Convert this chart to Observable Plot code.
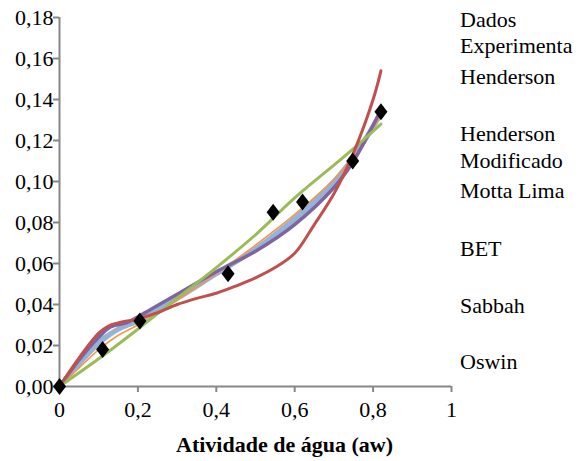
<!DOCTYPE html>
<html>
<head>
<meta charset="utf-8">
<script src="https://cdn.jsdelivr.net/npm/d3@7"></script>
<script src="https://cdn.jsdelivr.net/npm/@observablehq/plot@0.6"></script>
<style>
  html, body { margin: 0; padding: 0; background: #fff; }
  #wrap { position: relative; width: 587px; height: 461px; }
  #legend { position: absolute; left: 460px; top: 0; font-family: "Liberation Serif", Tinos, "Times New Roman", Times, "DejaVu Serif", serif; font-size: 22px; color: #000; white-space: nowrap; }
  #legend div { position: absolute; left: 0; line-height: 22px; }
  svg text { font-family: "Liberation Serif", Tinos, "Times New Roman", Times, "DejaVu Serif", serif !important; }
</style>
</head>
<body>
<div id="wrap"><div id="legend"></div></div>
<script>
// Experimental data
const expX = [0, 0.11, 0.205, 0.43, 0.545, 0.62, 0.748, 0.82];
const expY = [0, 0.018, 0.032, 0.055, 0.085, 0.09, 0.11, 0.134];

// Model curves
const hendX = [0, 0.05, 0.1, 0.125, 0.15, 0.2, 0.25, 0.3, 0.35, 0.4, 0.45, 0.5, 0.55, 0.6, 0.65, 0.7, 0.75, 0.8, 0.82];
const hendY = [0, 0.014, 0.026, 0.0295, 0.031, 0.033, 0.036, 0.04, 0.043, 0.0455, 0.049, 0.053, 0.058, 0.065, 0.079, 0.094, 0.114, 0.14, 0.154];
const hmodX = [0, 0.1, 0.2, 0.3, 0.4, 0.5, 0.6, 0.7, 0.75, 0.82];
const hmodY = [0, 0.0135, 0.028, 0.043, 0.058, 0.074, 0.092, 0.108, 0.116, 0.128];
const mottaX = [0, 0.05, 0.1, 0.13, 0.17, 0.2, 0.3, 0.4, 0.5, 0.6, 0.7, 0.75, 0.82];
const mottaY = [0, 0.013, 0.024, 0.029, 0.031, 0.034, 0.045, 0.056, 0.066, 0.079, 0.097, 0.11, 0.135];
const betX = [0, 0.05, 0.1, 0.15, 0.2, 0.3, 0.4, 0.5, 0.6, 0.7, 0.75, 0.82];
const betY = [0, 0.011, 0.021, 0.028, 0.032, 0.043, 0.055, 0.067, 0.082, 0.1, 0.112, 0.133];
const sabbahX = [0, 0.05, 0.1, 0.15, 0.2, 0.3, 0.4, 0.5, 0.6, 0.7, 0.75, 0.82];
const sabbahY = [0, 0.009, 0.018, 0.025, 0.03, 0.042, 0.055, 0.069, 0.084, 0.101, 0.112, 0.132];
const oswinX = [0, 0.05, 0.1, 0.15, 0.2, 0.3, 0.4, 0.5, 0.6, 0.7, 0.75, 0.82];
const oswinY = [0, 0.012, 0.022, 0.028, 0.032, 0.043, 0.055, 0.067, 0.081, 0.099, 0.111, 0.134];

const legendLabels = ["Dados", "Experimenta", "Henderson", "Henderson", "Modificado", "Motta Lima", "BET", "Sabbah", "Oswin"];
const legendBaselines = [26, 52, 83, 140, 167, 197, 255, 312, 368];

const xTicks = [0, 0.2, 0.4, 0.6, 0.8, 1];
const yTicks = [0, 0.02, 0.04, 0.06, 0.08, 0.10, 0.12, 0.14, 0.16, 0.18];

const toPts = (xs, ys) => xs.map((x, i) => ({x, y: ys[i]}));

const tallDiamond = {
  draw(ctx) {
    ctx.moveTo(0, -8.5);
    ctx.lineTo(6.5, 0);
    ctx.lineTo(0, 8.5);
    ctx.lineTo(-6.5, 0);
    ctx.closePath();
  }
};

const axisColor = "#878787";
const curve = "catmull-rom";

const chart = Plot.plot({
  width: 587,
  height: 461,
  marginLeft: 59,
  marginRight: 136,
  marginTop: 17,
  marginBottom: 75,
  style: { fontSize: "22px", color: "#000", background: "#fff" },
  x: { domain: [0, 1] },
  y: { domain: [0, 0.18] },
  marks: [
    Plot.axisX({ ticks: xTicks, tickSize: 6, tickPadding: 9, stroke: axisColor, strokeWidth: 2, fill: "#000",
      tickFormat: d => String(d).replace(".", ","), label: null }),
    Plot.axisY({ ticks: yTicks, tickSize: 6, tickPadding: 0, stroke: axisColor, strokeWidth: 2, fill: "#000",
      tickFormat: d => d.toFixed(2).replace(".", ","), label: null }),
    Plot.ruleX([0], { stroke: axisColor, strokeWidth: 2 }),
    Plot.ruleY([0], { stroke: axisColor, strokeWidth: 2 }),
    Plot.line(toPts(oswinX, oswinY), { x: "x", y: "y", stroke: "#93B1D6", strokeWidth: 4, curve }),
    Plot.line(toPts(betX, betY), { x: "x", y: "y", stroke: "#95B3D7", strokeWidth: 5, curve }),
    Plot.line(toPts(sabbahX, sabbahY), { x: "x", y: "y", stroke: "#F79646", strokeWidth: 1.5, curve }),
    Plot.line(toPts(mottaX, mottaY), { x: "x", y: "y", stroke: "#8064A2", strokeWidth: 3.5, curve }),
    Plot.line(toPts(hmodX, hmodY), { x: "x", y: "y", stroke: "#9BBB59", strokeWidth: 3, curve }),
    Plot.line(toPts(hendX, hendY), { x: "x", y: "y", stroke: "#C0504D", strokeWidth: 3, curve }),
    Plot.dot(toPts(expX, expY), { x: "x", y: "y", symbol: tallDiamond, fill: "#000", stroke: "none", r: 5 }),
    Plot.text(["Atividade de água (aw)"], { frameAnchor: "bottom", dy: 65, fontWeight: "bold", fontSize: 22, dx: 29 })
  ]
});

const wrap = document.getElementById("wrap");
wrap.insertBefore(chart, wrap.firstChild);
const legend = document.getElementById("legend");
legendLabels.forEach((t, i) => {
  const d = document.createElement("div");
  d.textContent = t;
  d.style.top = (legendBaselines[i] - 17) + "px";
  legend.appendChild(d);
});
</script>
</body>
</html>
